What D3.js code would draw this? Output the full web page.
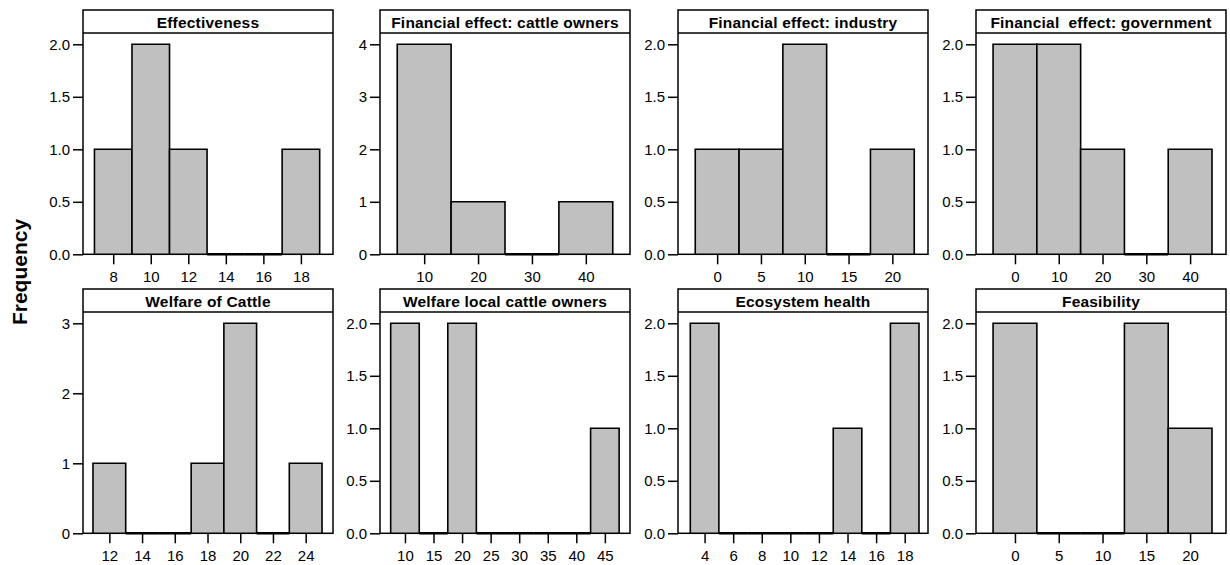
<!DOCTYPE html>
<html><head><meta charset="utf-8">
<script src="https://cdn.jsdelivr.net/npm/d3@7"></script>
<style>
body{margin:0;background:#fff}
text{font-family:"Liberation Sans",Arial,sans-serif}
</style>
</head><body>
<svg id="c" width="1230" height="565"></svg>
<script>
const titles = ["Effectiveness","Financial effect: cattle owners","Financial effect: industry","Financial\u00a0\u00a0effect: government",
  "Welfare of Cattle","Welfare local cattle owners","Ecosystem health","Feasibility"];
const binStarts = [7, 5, -2.5, -5, 11, 7.5, 3, -2.5];
const binWidths = [2, 10, 5, 10, 2, 5, 2, 5];
const counts = [
  [1,2,1,0,0,1],
  [4,1,0,1],
  [1,1,2,0,1],
  [2,2,1,0,1],
  [1,0,0,1,3,0,1],
  [2,0,2,0,0,0,0,1],
  [2,0,0,0,0,1,0,2],
  [2,0,0,2,1]
];
const xDomains = [[6.39,19.71],[1.8,48.2],[-4.47,24.07],[-8.9,48.2],[10.39,25.67],[5.63,49.4],[2.14,19.63],[-4.45,24.1]];
const xTicks = [[8,10,12,14,16,18],[10,20,30,40],[0,5,10,15,20],[0,10,20,30,40],
  [12,14,16,18,20,22,24],[10,15,20,25,30,35,40,45],[4,6,8,10,12,14,16,18],[0,5,10,15,20]];
const yTicks = [[0,0.5,1,1.5,2],[0,1,2,3,4],[0,0.5,1,1.5,2],[0,0.5,1,1.5,2],
  [0,1,2,3],[0,0.5,1,1.5,2],[0,0.5,1,1.5,2],[0,0.5,1,1.5,2]];
const yLabel = "Frequency";

const svg = d3.select("#c");
const colLefts = [83, 380, 678, 976];
const rowTops = [10, 289];
const W = 250, H = 244.3, strip = 23, topPad = 34.3;

titles.forEach((t, i) => {
  const x0 = colLefts[i % 4], y0 = rowTops[Math.floor(i / 4)];
  const g = svg.append("g").attr("transform", `translate(${x0},${y0})`);
  const ymax = d3.max(yTicks[i]);
  const y = d3.scaleLinear().domain([0, ymax]).range([H, topPad]);
  const x = d3.scaleLinear().domain(xDomains[i]).range([0, W]);
  const bins = counts[i].map((c, k) => ({x0: binStarts[i] + k * binWidths[i], x1: binStarts[i] + (k + 1) * binWidths[i], c}));

  // frame
  g.append("rect").attr("x", 0).attr("y", 0).attr("width", W).attr("height", H)
    .attr("fill", "none").attr("stroke", "#000").attr("stroke-width", 1.5);
  g.append("line").attr("x1", 0).attr("x2", W).attr("y1", strip).attr("y2", strip)
    .attr("stroke", "#000").attr("stroke-width", 1.5);

  g.selectAll("path.bar").data(bins).join("path").attr("class", "bar")
    .attr("d", b => `M${x(b.x0)},${y(0)}V${y(b.c)}H${x(b.x1)}V${y(0)}Z`)
    .attr("fill", "#c0c0c0").attr("stroke", "#000")
    .attr("stroke-width", b => b.c === 0 ? 2.5 : 1.6);

  g.append("text").attr("x", W / 2).attr("y", 18.3).attr("text-anchor", "middle")
    .attr("font-weight", "bold").attr("font-size", 15.5).attr("letter-spacing", 0.2).text(t);

  const step = yTicks[i][1] - yTicks[i][0];
  const ya = d3.axisLeft(y).tickValues(yTicks[i]).tickSize(10).tickPadding(3)
    .tickFormat(step < 1 ? d3.format(".1f") : d3.format("d"));
  const gy = g.append("g").call(ya);
  gy.select(".domain").remove();
  gy.selectAll("line").attr("stroke-width", 1.5);
  gy.selectAll("text").attr("font-size", 15).attr("fill", "#000").style("font-family", "Liberation Sans, Arial, sans-serif");

  const xa = d3.axisBottom(x).tickValues(xTicks[i]).tickSize(10).tickPadding(7).tickFormat(d3.format("d"));
  const gx = g.append("g").attr("transform", `translate(0,${H})`).call(xa);
  gx.select(".domain").remove();
  gx.selectAll("line").attr("stroke-width", 1.5);
  gx.selectAll("text").attr("font-size", 15).attr("fill", "#000").style("font-family", "Liberation Sans, Arial, sans-serif");
});

svg.append("text").attr("transform", "translate(27,272) rotate(-90)").attr("text-anchor", "middle")
  .attr("font-weight", "bold").attr("font-size", 21).text(yLabel);
</script>
</body></html>
